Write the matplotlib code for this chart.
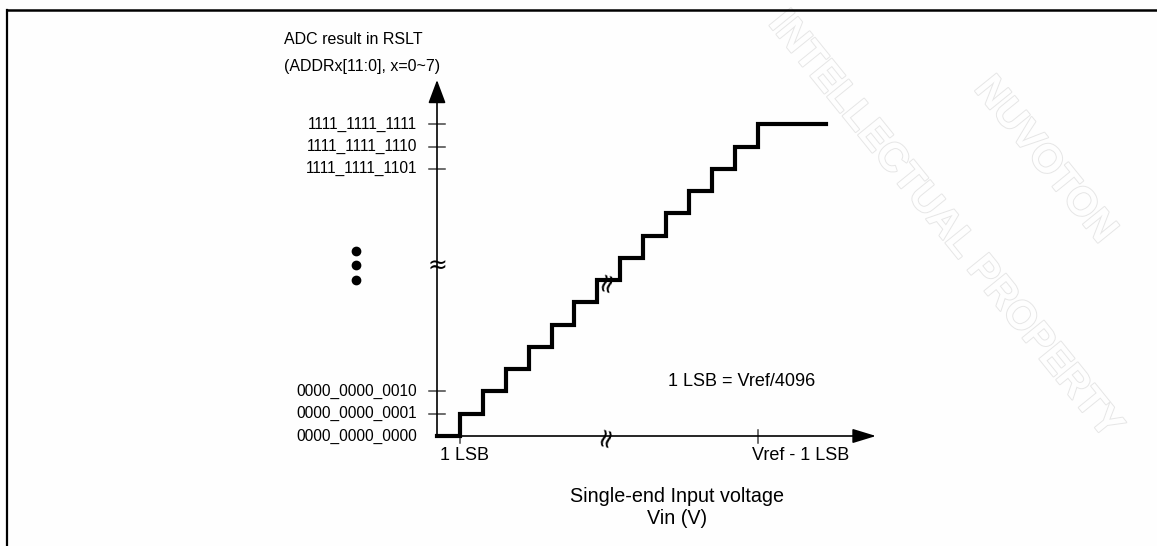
import matplotlib
matplotlib.use('Agg')
import matplotlib.pyplot as plt
import matplotlib.patheffects as pe
from matplotlib.lines import Line2D

plt.rcParams['font.family'] = ['Liberation Sans', 'DejaVu Sans']

# ADC transfer curve (x in LSB, y in output code index)
steps = [1, 2, 3, 4, 5, 6, 7, 8, 9, 10, 11, 12, 13, 14]
levels = [0, 1, 2, 3, 4, 5, 6, 7, 8, 9, 10, 11, 12, 13, 14]
end_x = 17

code_pos = [0, 1, 2, 12, 13, 14]
code_labels = ['0000_0000_0000', '0000_0000_0001', '0000_0000_0010',
               '1111_1111_1101', '1111_1111_1110', '1111_1111_1111']
x_tick_pos = [1, 14]
x_tick_labels = ['1 LSB', 'Vref - 1 LSB']

W, H = 1157, 546
X0, SX = 437, 22.9     # pixel of x=0, pixels per LSB
Y0, SY = 436, 22.26    # pixel of code 0, pixels per code

fig = plt.figure(figsize=(W / 100, H / 100), dpi=100)
fig.patch.set_facecolor('#fefefe')
ax = fig.add_axes([0, 0, 1, 1])
ax.set_xlim(-X0 / SX, (W - X0) / SX)
ax.set_ylim(-(H - Y0) / SY, Y0 / SY)
ax.axis('off')


def fx(px):
    return px / W


def fy(py):
    return 1 - py / H


# frame (left and top only)
fig.add_artist(Line2D([fx(7), fx(7)], [fy(10), 0], color='black', lw=1.6))
fig.add_artist(Line2D([fx(7), 1], [fy(10), fy(10)], color='black', lw=1.8))

# faint watermark
wm = dict(color='#fefefe', fontsize=29, rotation=-51, ha='center', va='center',
          fontweight='bold', zorder=0,
          path_effects=[pe.withStroke(linewidth=1.4, foreground='#e6e6e6')])
fig.text(fx(1045), fy(160), 'NUVOTON', **wm)
fig.text(fx(945), fy(225), 'INTELLECTUAL PROPERTY', **wm)

# axes with arrows
ax.annotate('', xy=(0, (Y0 - 80) / SY), xytext=(0, 0),
            arrowprops=dict(arrowstyle='-|>,head_length=0.72,head_width=0.27',
                            mutation_scale=20, lw=1.2, color='black',
                            shrinkA=0, shrinkB=0))
ax.annotate('', xy=((876 - X0) / SX, 0), xytext=(0, 0),
            arrowprops=dict(arrowstyle='-|>,head_length=0.72,head_width=0.22',
                            mutation_scale=20, lw=1.2, color='black',
                            shrinkA=0, shrinkB=0))

# y ticks and labels
for c, lab in zip(code_pos, code_labels):
    if c > 0:
        ax.plot([-8 / SX, 8 / SX], [c, c], color='#444444', lw=1.1)
    ax.text(-20 / SX, c, lab, ha='right', va='center', fontsize=11.2)

# x ticks and labels
ax.plot([x_tick_pos[0], x_tick_pos[0]], [0, -7 / SY], color='#444444', lw=1.1)
ax.plot([x_tick_pos[1], x_tick_pos[1]], [6 / SY, -7 / SY], color='#444444', lw=1.1)
fig.text(fx(440), fy(455), x_tick_labels[0], ha='left', va='center', fontsize=13)
fig.text(fx(752), fy(455), x_tick_labels[1], ha='left', va='center', fontsize=13)

# staircase
ax.step([0] + steps + [end_x], levels + [levels[-1]], where='post',
        color='black', lw=3.0, solid_joinstyle='miter', zorder=3)

# break marks
brk = dict(ha='center', va='center', family=['DejaVu Sans'], zorder=4)
ax.text(0, (Y0 - 266) / SY, '\u2248', fontsize=17, **brk)
ax.text((606 - X0) / SX, 0, '\u2248', fontsize=19, rotation=75, **brk)
ax.text((607 - X0) / SX, (Y0 - 281) / SY, '\u2248', fontsize=19, rotation=75, **brk)

# ellipsis dots between code groups
ax.plot([(356 - X0) / SX] * 3, [(Y0 - 251) / SY, (Y0 - 265) / SY, (Y0 - 280) / SY],
        'o', color='black', ms=6)

# texts
fig.text(fx(284), fy(40), 'ADC result in RSLT', ha='left', va='center', fontsize=11.5)
fig.text(fx(284), fy(66), '(ADDRx[11:0], x=0~7)', ha='left', va='center', fontsize=11.5)
fig.text(fx(668), fy(381), '1 LSB = Vref/4096', ha='left', va='center', fontsize=13)
fig.text(fx(677), fy(496), 'Single-end Input voltage', ha='center', va='center', fontsize=14.2)
fig.text(fx(677), fy(518), 'Vin (V)', ha='center', va='center', fontsize=14.2)

fig.savefig('out.png', dpi=100, facecolor=fig.get_facecolor())
